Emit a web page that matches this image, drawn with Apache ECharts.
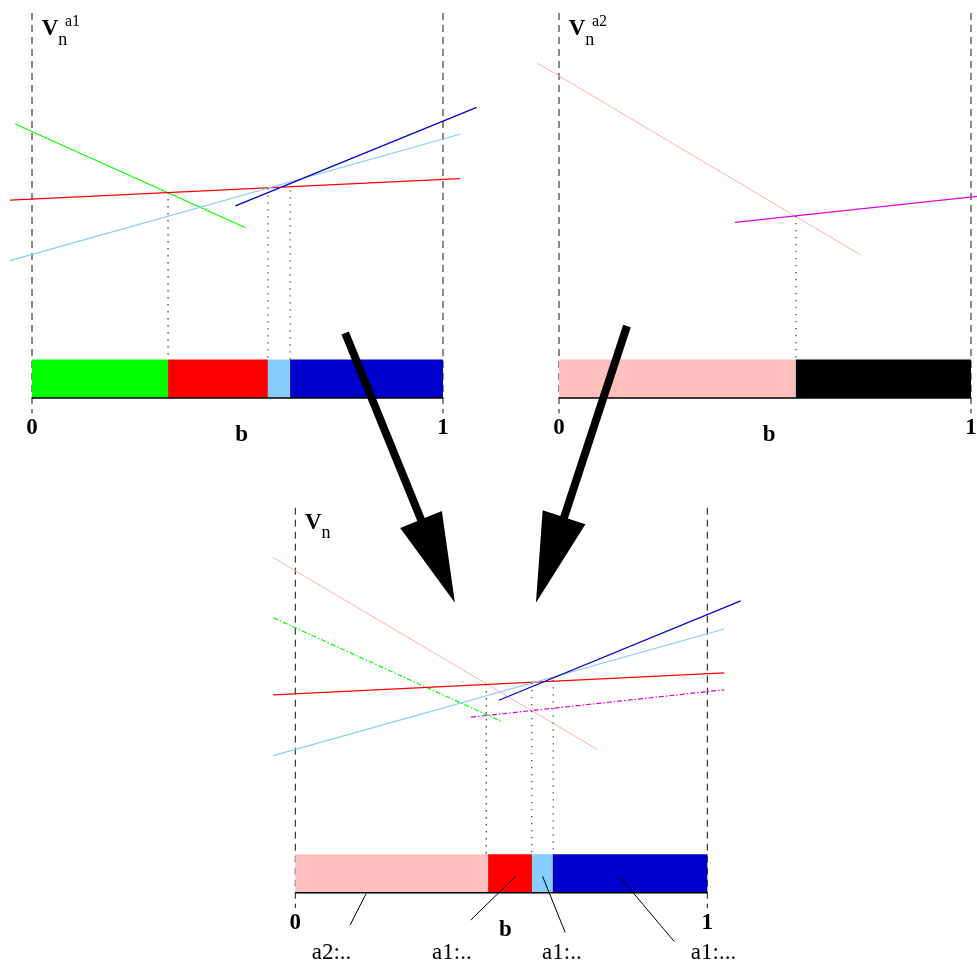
<!DOCTYPE html>
<html><head><meta charset="utf-8">
<script src="https://cdn.jsdelivr.net/npm/echarts@6/dist/echarts.min.js"></script>
<style>html,body{margin:0;padding:0;background:#fff}#c{width:977px;height:966px}</style>
</head><body><div id="c"></div>
<script>
// ---------- Data (b in [0,1], V in arbitrary units) ----------
// Panel 1: V_n^a1
const a1Green     = [[-0.041, 71.2], [0.520, 44.2]];
const a1Red       = [[-0.0535, 51.4], [1.041, 57.0]];
const a1LightBlue = [[-0.0535, 35.7], [1.041, 68.5]];
const a1Blue      = [[0.495, 49.9], [1.082, 75.5]];
const a1Drops     = [[0.331, 53.5], [0.574, 54.5], [0.628, 55.8]];
const a1Segments  = [[0, 0.331], [0.331, 0.574], [0.574, 0.628], [0.628, 1]];

// Panel 2: V_n^a2
const a2Pink      = [[-0.0527, 87.0], [0.733, 37.1]];
const a2Magenta   = [[0.427, 45.6], [1.041, 52.7]];
const a2Drops     = [[0.575, 47.3]];
const a2Segments  = [[0, 0.575], [0.575, 1]];

// Panel 3: V_n (combined)
const vPink       = [[-0.0534, 87.0], [0.733, 37.2]];
const vGreen      = [[-0.0534, 71.4], [0.502, 44.4]];
const vRed        = [[-0.0534, 51.4], [1.041, 57.1]];
const vLightBlue  = [[-0.0534, 35.6], [1.041, 68.5]];
const vBlue       = [[0.494, 50.0], [1.081, 75.8]];
const vMagenta    = [[0.4265, 45.6], [1.041, 52.7]];
const vDrops      = [[0.4636, 54.2], [0.574, 54.5], [0.626, 55.2]];
const vSegments   = [[0, 0.468], [0.468, 0.575], [0.575, 0.625], [0.625, 1]];
const vLeaders    = [[[0.172, -0.2], [0.133, -8.4]], [[0.535, 4.3], [0.426, -7.1]],
                     [[0.600, 4.3], [0.655, -10.3]], [[0.786, 4.3], [0.920, -12.7]]];
const vLeaderText = ['a2:..', 'a1:..', 'a1:..', 'a1:...'];
const vLeaderTextB = [0.088, 0.380, 0.647, 1.015];

// Tick labels
const tickB = [0, 1];
const tickLabels = ['0', '1'];
const axisName = 'b';

// Arrows (start in top panel coords -> tip)
const arrow1 = [0.762, 16.9, 1.029, -53.2];
const arrow2 = [0.165, 18.7, -0.056, -53.2];

// ---------- Styles ----------
const C = {
  green: '#00ff00', red: '#ff0000', lightblue: '#87cefa', blue: '#0000cd',
  pink: '#ffbfbf', pinkLine: '#ffb0b0', magenta: '#e000e0', black: '#000000'
};
const BAR_H = 10;
const SERIF = '"Liberation Serif", "DejaVu Serif", serif';

const chart = echarts.init(document.getElementById('c'), null, {renderer: 'canvas'});

const grids = [
  {left: 32, top: 13, width: 411, height: 385},
  {left: 559, top: 13, width: 412, height: 385},
  {left: 295.3, top: 507.7, width: 412, height: 385}
];

// Polyline drawn through the axis scales (custom series so it may extend past the frame)
function lineS(gi, data, color, width, dash, z) {
  return {type: 'custom', xAxisIndex: gi, yAxisIndex: gi, clip: false, silent: true, z: z || 3,
    data: [[0, 0]],
    renderItem: function (params, api) {
      const pts = data.map(d => api.coord([d[0], d[1]]));
      return {type: 'polyline', shape: {points: pts},
        style: {stroke: color, lineWidth: width, fill: null, lineDash: dash || null, lineCap: 'butt'}};
    }};
}
function barS(gi, segs, colors) {
  return {type: 'custom', xAxisIndex: gi, yAxisIndex: gi, clip: false, silent: true, z: 2,
    data: segs.map((s, i) => [s[0], s[1], i]),
    renderItem: function (params, api) {
      const p0 = api.coord([api.value(0), BAR_H]);
      const p1 = api.coord([api.value(1), 0]);
      return {type: 'rect', shape: {x: p0[0], y: p0[1], width: p1[0] - p0[0], height: p1[1] - p0[1]},
        style: {fill: colors[api.value(2)]}};
    }};
}
function dropsS(gi, drops) {
  return drops.map(d => lineS(gi, [[d[0], d[1]], [d[0], BAR_H]], '#333', 1.2, [1.4, 5.6], 3));
}
function frameS(gi) {
  return [
    lineS(gi, [[0, 100], [0, -4]], '#111', 1, [7, 5], 1),
    lineS(gi, [[1, 100], [1, -4]], '#111', 1, [7, 5], 1),
    lineS(gi, [[0, 0], [1, 0]], '#000', 1.6, null, 4)
  ];
}
function textS(gi, items) {
  return {type: 'custom', xAxisIndex: gi, yAxisIndex: gi, clip: false, silent: true, z: 6,
    data: items.map((it, i) => [it.b, it.v, i]),
    renderItem: function (params, api) {
      const it = items[api.value(2)];
      const p = api.coord([api.value(0), api.value(1)]);
      return {type: 'text', x: p[0], y: p[1],
        style: {text: it.text, font: it.font, fill: '#000', align: 'center', verticalAlign: 'middle'}};
    }};
}
function axisTexts(gi) {
  const items = tickB.map((b, i) => ({b: b, v: -7.8, text: tickLabels[i], font: 'bold 23px ' + SERIF}));
  items.push({b: 0.51, v: -9.6, text: axisName, font: 'bold 23px ' + SERIF});
  return textS(gi, items);
}
function titleS(gi, sup, dy) {
  return {type: 'custom', xAxisIndex: gi, yAxisIndex: gi, clip: false, silent: true, z: 6,
    data: [[0, 100]],
    renderItem: function (params, api) {
      const p = api.coord([api.value(0), api.value(1)]);
      const ch = [
        {type: 'text', x: p[0] + 9.8, y: p[1] + 16.5 + dy,
          style: {text: 'V', font: 'bold 23px ' + SERIF, fill: '#000', verticalAlign: 'middle'}},
        {type: 'text', x: p[0] + 26.3, y: p[1] + 27 + dy,
          style: {text: 'n', font: '18px ' + SERIF, fill: '#000', verticalAlign: 'middle'}}
      ];
      if (sup) ch.push({type: 'text', x: p[0] + 33, y: p[1] + 8.5,
          style: {text: sup, font: '16px ' + SERIF, fill: '#000', verticalAlign: 'middle'}});
      return {type: 'group', children: ch};
    }};
}
function arrowS(gi, a) {
  return {type: 'custom', xAxisIndex: gi, yAxisIndex: gi, clip: false, silent: true, z: 20,
    data: [a],
    renderItem: function (params, api) {
      const p0 = api.coord([api.value(0), api.value(1)]);
      const p1 = api.coord([api.value(2), api.value(3)]);
      const dx = p1[0] - p0[0], dy = p1[1] - p0[1];
      const L = Math.sqrt(dx * dx + dy * dy);
      const ux = dx / L, uy = dy / L, nx = -uy, ny = ux;
      const HL = 90, HW = 22.5;
      const bx = p1[0] - ux * HL, by = p1[1] - uy * HL;
      return {type: 'group', children: [
        {type: 'line', shape: {x1: p0[0], y1: p0[1], x2: bx + ux * 4, y2: by + uy * 4},
          style: {stroke: '#000', lineWidth: 8, lineCap: 'butt'}},
        {type: 'polygon', shape: {points: [[bx + nx * HW, by + ny * HW], [bx - nx * HW, by - ny * HW], [p1[0], p1[1]]]},
          style: {fill: '#000'}}
      ]};
    }};
}

const DASHDOT = [5, 2, 1.5, 2];
const series = [];
// Panel 1
series.push(...frameS(0));
series.push(barS(0, a1Segments, [C.green, C.red, C.lightblue, C.blue]));
series.push(lineS(0, a1Green, C.green, 1.1));
series.push(lineS(0, a1Red, C.red, 1.2));
series.push(lineS(0, a1LightBlue, C.lightblue, 1.2));
series.push(lineS(0, a1Blue, C.blue, 1.2));
series.push(...dropsS(0, a1Drops));
series.push(axisTexts(0));
series.push(titleS(0, 'a1', 0));
series.push(arrowS(0, arrow1));
// Panel 2
series.push(...frameS(1));
series.push(barS(1, a2Segments, [C.pink, C.black]));
series.push(lineS(1, a2Pink, C.pinkLine, 1));
series.push(lineS(1, a2Magenta, C.magenta, 1.2));
series.push(...dropsS(1, a2Drops));
series.push(axisTexts(1));
series.push(titleS(1, 'a2', 0));
series.push(arrowS(1, arrow2));
// Panel 3
series.push(...frameS(2));
series.push(barS(2, vSegments, [C.pink, C.red, C.lightblue, C.blue]));
series.push(lineS(2, vPink, C.pinkLine, 1));
series.push(lineS(2, vGreen, C.green, 1.2, DASHDOT));
series.push(lineS(2, vRed, C.red, 1.2));
series.push(lineS(2, vLightBlue, C.lightblue, 1.2));
series.push(lineS(2, vBlue, C.blue, 1.2));
series.push(lineS(2, vMagenta, C.magenta, 1.2, DASHDOT));
series.push(...dropsS(2, vDrops));
vLeaders.forEach(l => series.push(lineS(2, l, '#000', 1, null, 7)));
series.push(axisTexts(2));
series.push(textS(2, vLeaderText.map((t, i) => ({b: vLeaderTextB[i], v: -15.7, text: t, font: '23px ' + SERIF}))));
series.push(titleS(2, null, -1));

chart.setOption({
  animation: false,
  backgroundColor: '#fff',
  grid: grids,
  xAxis: grids.map((g, i) => ({gridIndex: i, type: 'value', min: 0, max: 1, show: false})),
  yAxis: grids.map((g, i) => ({gridIndex: i, type: 'value', min: 0, max: 100, show: false})),
  series: series
});
</script>
</body></html>
